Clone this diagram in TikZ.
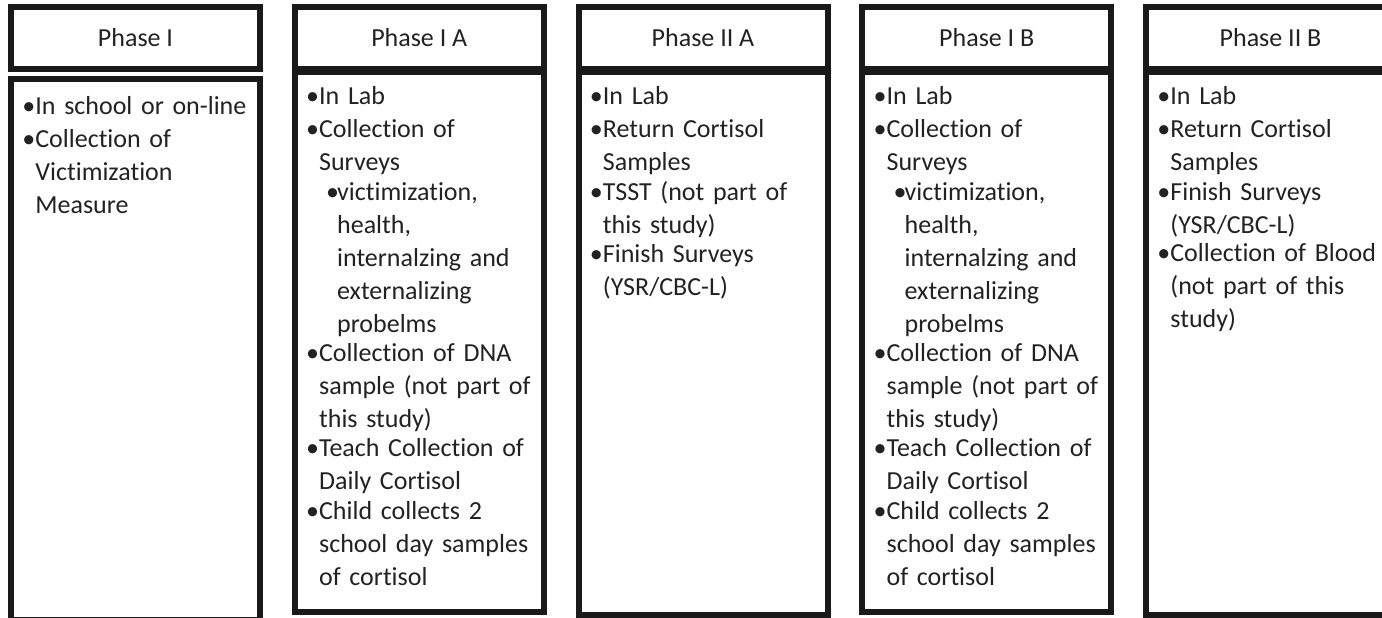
\documentclass[tikz,border=0pt]{standalone}
\usepackage{fontspec}
\setmainfont{Carlito}[Ligatures=NoCommon]
\usepackage{tikz}
\usetikzlibrary{positioning}

\definecolor{rand}{HTML}{1A1A1A}
\definecolor{schrift}{HTML}{222222}

% Aufzaehlungspunkte
\newcommand{\pkt}[1]{\noindent\makebox[6.5pt][l]{\textbullet}\parbox[t]{115pt}{\strut #1}\par}
\newcommand{\upkt}[1]{\noindent\hspace*{10pt}\makebox[5.5pt][l]{\textbullet}\parbox[t]{105pt}{\strut #1}\par}

\begin{document}
\begin{tikzpicture}[x=0.5pt, y=-0.5pt, inner sep=0pt,
	kopf/.style={draw=rand, line width=3pt, fill=white, minimum width=124.5pt, minimum height=31pt, text=schrift, font=\fontsize{13}{16.5}\selectfont},
	feld/.style={draw=rand, line width=3pt, fill=white, minimum width=124.5pt},
	liste/.style={text width=120pt, align=left, text=schrift, font=\fontsize{13}{16.5}\selectfont}]
	
	\useasboundingbox (0,0) rectangle (1382,617);
	\fill[white] (0,0) rectangle (1382,617);
	\clip (0,0) rectangle (1382,617);
	
	% Felder
	\node[feld, minimum height=270.5pt](b1) at (135.5,349.5) {};
	\node[feld, minimum height=270pt](b2) at (419.25,342) {};
	\node[feld, minimum height=271.5pt](b3) at (703,343.5) {};
	\node[feld, minimum height=270pt](b4) at (986.75,342) {};
	\node[feld, minimum height=271.5pt](b5) at (1270.5,343.5) {};
	
	% Kopfzeilen
	\node[kopf](k1) at (135.5,38) {Phase I};
	\node[kopf](k2) at (419.25,38) {Phase I A};
	\node[kopf](k3) at (703,38) {Phase II A};
	\node[kopf](k4) at (986.75,38) {Phase I B};
	\node[kopf](k5) at (1270.5,38) {Phase II B};
	
	% Texte
	\node[liste, below right=7.5pt and 7pt of b1.north west](t1) {
		\pkt{In school or on-line}
		\pkt{Collection of\\Victimization\\Measure}};
	
	\node[liste, below right=6.2pt and 7pt of b2.north west](t2) {
		\pkt{In Lab}
		\pkt{Collection of\\Surveys}
		\upkt{victimization,\\health,\\internalzing and\\externalizing\\probelms}
		\pkt{Collection of DNA\\sample (not part of\\this study)}
		\pkt{Teach Collection of\\Daily Cortisol}
		\pkt{Child collects 2\\school day samples\\of cortisol}};
	
	\node[liste, below right=6.2pt and 7pt of b3.north west](t3) {
		\pkt{In Lab}
		\pkt{Return Cortisol\\Samples}
		\pkt{TSST (not part of\\this study)}
		\pkt{Finish Surveys\\(YSR/CBC-L)}};
	
	\node[liste, below right=6.2pt and 7pt of b4.north west](t4) {
		\pkt{In Lab}
		\pkt{Collection of\\Surveys}
		\upkt{victimization,\\health,\\internalzing and\\externalizing\\probelms}
		\pkt{Collection of DNA\\sample (not part of\\this study)}
		\pkt{Teach Collection of\\Daily Cortisol}
		\pkt{Child collects 2\\school day samples\\of cortisol}};
	
	\node[liste, below right=6.2pt and 7pt of b5.north west](t5) {
		\pkt{In Lab}
		\pkt{Return Cortisol\\Samples}
		\pkt{Finish Surveys\\(YSR/CBC-L)}
		\pkt{Collection of Blood\\(not part of this\\study)}};
\end{tikzpicture}
\end{document}
